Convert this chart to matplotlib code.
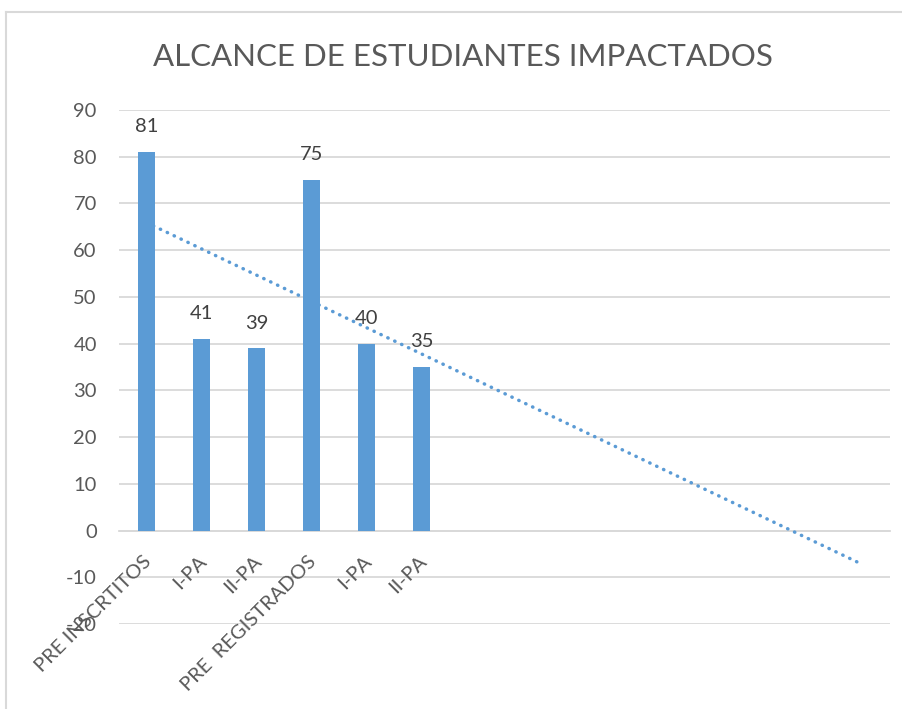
import matplotlib
matplotlib.use("Agg")
import matplotlib.pyplot as plt
import numpy as np
from matplotlib.lines import Line2D
from matplotlib.transforms import ScaledTranslation

categories = ["PRE INSCRTITOS", "I-PA", "II-PA", "PRE  REGISTRADOS", "I-PA", "II-PA"]
values = [81, 41, 39, 75, 40, 35]
n_slots = 14          # axis categories (trendline forecast forward 8 periods)
forecast = 8
yticks = list(range(-20, 91, 10))
title = "ALCANCE DE ESTUDIANTES IMPACTADOS"

bar_color = "#5B9BD5"
text_color = "#595959"
grid_color = "#D9D9D9"

plt.rcParams['font.family'] = ['Lato', 'DejaVu Sans']
plt.rcParams['axes.unicode_minus'] = False

W, H = 903, 709
fig = plt.figure(figsize=(W / 100, H / 100), dpi=100)

left, right, top, bottom = 119, 890, 110, 624
ax = fig.add_axes([left / W, 1 - bottom / H, (right - left) / W, (bottom - top) / H])

x = np.arange(len(values))
ax.bar(x, values, width=0.31, color=bar_color, zorder=3)

for xi, v in zip(x, values):
    ax.annotate(str(v), (xi, v), xytext=(0, 12), textcoords="offset points",
                ha="center", va="bottom", fontsize=14.5, color="#404040", zorder=5)

# linear trendline with forward forecast
xs = np.arange(1, len(values) + 1)
slope, intercept = np.polyfit(xs, values, 1)
xt = np.arange(1, len(values) + forecast + 1)
yt = slope * xt + intercept
ax.plot(xt - 1, yt, color=bar_color, linewidth=2.5, linestyle=(0, (0.1, 2.1)),
        dash_capstyle="round", zorder=4)

ax.set_xlim(-0.5, n_slots - 0.5)
ax.set_ylim(-20, 90)
ax.set_yticks(yticks)
ax.yaxis.grid(True, color=grid_color, linewidth=1.3, zorder=0)
ax.set_axisbelow(True)
for s in ["top", "right", "left"]:
    ax.spines[s].set_visible(False)
ax.spines["bottom"].set_position(("data", 0))
ax.spines["bottom"].set_color(grid_color)
ax.spines["bottom"].set_linewidth(1.3)
ax.tick_params(axis="both", length=0, labelsize=14.5, labelcolor=text_color)
ax.tick_params(axis="y", pad=16)

ax.set_xticks(x)
ax.set_xticklabels([])
off = ScaledTranslation(2 / 100, -28 / 100, fig.dpi_scale_trans)
for xi, lab in zip(x, categories):
    ax.text(xi, 0, lab, transform=ax.transData + off, rotation=45,
            ha="right", va="center", rotation_mode="anchor",
            fontsize=14.5, color=text_color, zorder=6)

fig.text(463 / W, 1 - 57 / H, title, ha="center", va="center",
         fontsize=22.5, color=text_color)

# chart area border (top & left visible)
fig.add_artist(Line2D([6 / W, 1], [1 - 12 / H, 1 - 12 / H], color=grid_color,
                      linewidth=1.5, transform=fig.transFigure))
fig.add_artist(Line2D([6 / W, 6 / W], [0, 1 - 12 / H], color=grid_color,
                      linewidth=1.5, transform=fig.transFigure))

fig.savefig("out.png", dpi=100)
